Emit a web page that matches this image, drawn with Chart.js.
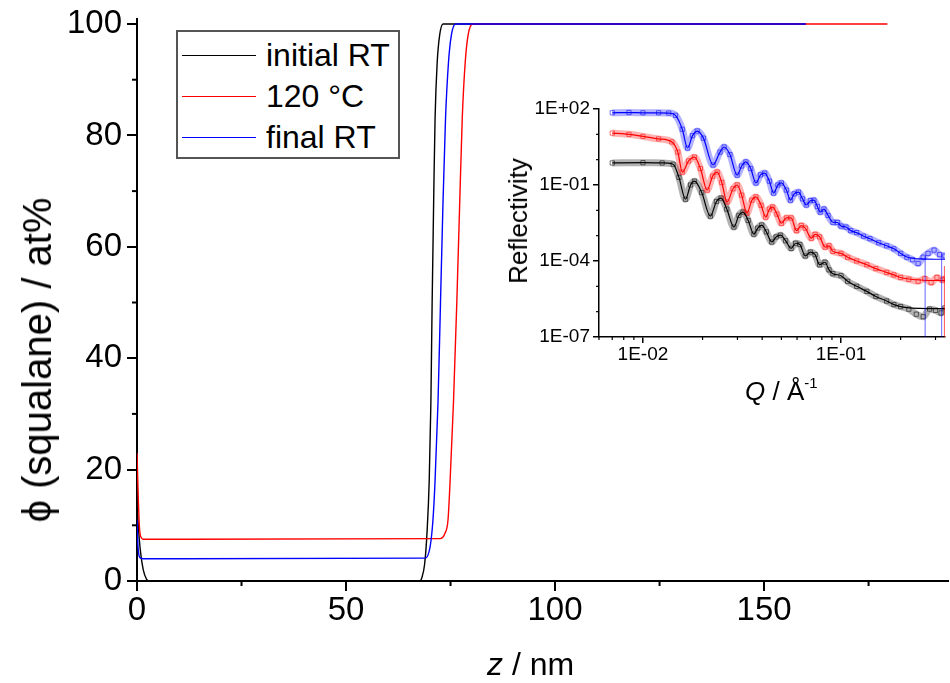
<!DOCTYPE html>
<html>
<head>
<meta charset="utf-8">
<script src="https://cdn.jsdelivr.net/npm/chart.js@4.4.1/dist/chart.umd.min.js"></script>
<style>
  body { margin: 0; background: #fff; }
  #wrap { position: relative; width: 950px; height: 683px; font-family: Arial, "Liberation Sans", sans-serif; color: #000; }
  canvas { position: absolute; }
  #main { left: 0; top: 0; }
  #inset { left: 480px; top: 80px; }
  .txt { position: absolute; white-space: nowrap; line-height: 1; }
  .rot { transform: translate(-50%, -50%) rotate(-90deg); }
  #legend { position: absolute; left: 176px; top: 30px; width: 220px; height: 125px; border: 2px solid #555; background: #fff; }
  .row { position: absolute; left: 0; height: 32px; }
  .row .swatch { position: absolute; left: 4px; top: 16px; width: 74px; height: 1px; }
  .row span { position: absolute; left: 88px; top: 0; font-size: 32px; line-height: 32px; white-space: nowrap; }
  sup { font-size: 15px; vertical-align: 12px; }
</style>
</head>
<body>
<div id="wrap">
  <canvas id="main" width="950" height="683"></canvas>
  <canvas id="inset" width="470" height="330"></canvas>
  <div id="legend"></div>
  <div class="txt rot" style="left:37px; top:360px; font-size:40px;">ϕ (squalane) / at%</div>
  <div class="txt" style="left:487px; top:648px; font-size:32px;"><i>z</i> / nm</div>
  <div class="txt rot" style="left:518px; top:221px; font-size:26px;">Reflectivity</div>
  <div class="txt" style="left:745px; top:375px; font-size:26px;"><i>Q</i> / Å<sup>-1</sup></div>
</div>
<script>
// depth profiles: z in nm, squalane fraction in at%
const zInitial = [0, 0.3, 0.8, 1.5, 2.3, 3.0, 67.6, 68.1, 68.8, 69.4, 69.9, 70.3, 70.6, 71.0, 71.3, 71.8, 72.4, 73.2, 160];
const phiInitial = [14, 10, 5.5, 2, 0.3, 0, 0, 0.5, 3, 9, 18, 32, 50, 70, 83, 93, 98, 100, 100];
const zHot = [0, 0.3, 0.6, 1.0, 1.5, 72.5, 73.7, 74.4, 74.9, 75.7, 76.5, 77.2, 77.8, 78.5, 79.2, 80.3, 179.5];
const phiHot = [23, 15, 9.5, 7.8, 7.5, 7.6, 8.6, 11, 18, 32, 50, 68, 83, 93, 98, 100, 100];
const zFinal = [0, 0.25, 0.5, 0.9, 1.5, 68.9, 70.1, 70.8, 71.3, 72.0, 72.6, 73.2, 73.8, 74.5, 75.2, 76.2, 160];
const phiFinal = [11, 6, 4.5, 4.1, 4.0, 4.1, 6.1, 11, 18, 32, 50, 68, 83, 93, 98, 100, 100];

const seriesNames = ['initial RT', '120 °C', 'final RT'];
const seriesColors = ['#000000', '#ff0000', '#0000ff'];

const zTicks = [0, 50, 100, 150];
const zMinor = [25, 75, 125, 175];
const phiTicks = [0, 20, 40, 60, 80, 100];
const phiMinor = [10, 30, 50, 70, 90];

// inset reflectivity curves, R kept as log10(R)
const qInitial = [0.0070, 0.0100, 0.0125, 0.0142, 0.0152, 0.0164, 0.0174, 0.0182, 0.0198, 0.0219, 0.0235, 0.0248, 0.0265, 0.0288, 0.0305, 0.0320, 0.0340, 0.0363, 0.0380, 0.0398, 0.0420, 0.0447, 0.0470, 0.0495, 0.0525, 0.0560, 0.0590, 0.0620, 0.0660, 0.0700, 0.0740, 0.0780, 0.0830, 0.0870, 0.0910, 0.1000, 0.1080, 0.1200, 0.1350, 0.1500, 0.1700, 0.1850, 0.2000, 0.2200, 0.2400, 0.2600, 0.2800, 0.3000, 0.3200, 0.3350];
const logRInitial = [-0.13, -0.12, -0.13, -0.18, -0.70, -1.56, -1.00, -0.85, -1.30, -2.23, -1.65, -1.52, -1.95, -2.66, -2.20, -2.07, -2.40, -2.94, -2.70, -2.58, -2.85, -3.25, -3.05, -2.98, -3.20, -3.50, -3.30, -3.35, -3.80, -3.65, -3.75, -4.15, -4.05, -4.35, -4.50, -4.58, -4.80, -5.00, -5.20, -5.40, -5.58, -5.72, -5.80, -5.90, -6.10, -6.20, -5.90, -5.95, -6.05, -5.85];
const qHot = [0.0070, 0.0085, 0.0100, 0.0120, 0.0140, 0.0150, 0.0158, 0.0170, 0.0182, 0.0195, 0.0211, 0.0225, 0.0237, 0.0250, 0.0266, 0.0285, 0.0299, 0.0315, 0.0335, 0.0355, 0.0372, 0.0395, 0.0417, 0.0435, 0.0452, 0.0475, 0.0500, 0.0530, 0.0560, 0.0596, 0.0630, 0.0660, 0.0708, 0.0740, 0.0780, 0.0832, 0.0870, 0.0910, 0.1000, 0.1080, 0.1200, 0.1350, 0.1500, 0.1700, 0.1850, 0.2000, 0.2200, 0.2450, 0.2650, 0.2850, 0.3050, 0.3250, 0.3350];
const logRHot = [1.05, 1.00, 0.92, 0.82, 0.70, 0.30, -0.49, -0.05, 0.10, -0.35, -1.20, -0.65, -0.49, -0.90, -1.67, -1.15, -1.00, -1.40, -2.11, -1.60, -1.47, -1.80, -2.27, -1.95, -1.87, -2.15, -2.51, -2.30, -2.30, -2.80, -2.60, -2.70, -3.10, -2.95, -3.05, -3.45, -3.40, -3.62, -3.70, -3.85, -4.00, -4.15, -4.30, -4.45, -4.55, -4.65, -4.72, -4.80, -4.70, -4.85, -4.65, -4.75, -4.70];
const qFinal = [0.0070, 0.0085, 0.0100, 0.0120, 0.0135, 0.0146, 0.0158, 0.0168, 0.0178, 0.0188, 0.0202, 0.0226, 0.0245, 0.0257, 0.0275, 0.0299, 0.0315, 0.0331, 0.0350, 0.0372, 0.0392, 0.0412, 0.0435, 0.0457, 0.0480, 0.0500, 0.0530, 0.0556, 0.0580, 0.0610, 0.0640, 0.0668, 0.0700, 0.0730, 0.0760, 0.0785, 0.0820, 0.0860, 0.0910, 0.0960, 0.1000, 0.1060, 0.1120, 0.1200, 0.1300, 0.1400, 0.1550, 0.1700, 0.1850, 0.2000, 0.2150, 0.2300, 0.2450, 0.2600, 0.2750, 0.2950, 0.3150, 0.3350];
const logRFinal = [1.85, 1.86, 1.85, 1.85, 1.84, 1.75, 1.20, 0.46, 0.95, 1.13, 0.85, -0.21, 0.30, 0.50, 0.20, -0.61, -0.25, -0.09, -0.35, -0.92, -0.60, -0.53, -0.85, -1.32, -1.00, -0.92, -1.20, -1.60, -1.35, -1.28, -1.55, -1.79, -1.62, -1.60, -1.85, -2.07, -1.95, -2.20, -2.47, -2.48, -2.62, -2.66, -2.80, -2.88, -3.02, -3.12, -3.28, -3.40, -3.52, -3.70, -3.85, -3.95, -4.10, -3.85, -3.70, -3.57, -3.75, -3.80];

// fitted curves flatten at high Q
const fitTailQ = [0.215, 0.25, 0.30, 0.335];
const fitTailInitial = [-5.84, -5.87, -5.88, -5.88];
const fitTailHot = [-4.70, -4.75, -4.77, -4.77];
const fitTailFinal = [-3.84, -3.92, -3.93, -3.93];

// error bars reaching down to the axis at the noisy end
const errQFinal = [0.266, 0.322];
const errTopFinal = [-3.8, -3.7];
const errQHot = [0.333];
const errTopHot = [-4.2];

const qTicks = [0.01, 0.1];
const qTickLabels = ['1E-02', '1E-01'];
const qMinor = [0.006, 0.007, 0.008, 0.009, 0.02, 0.03, 0.04, 0.05, 0.06, 0.07, 0.08, 0.09, 0.2, 0.3];
const rTicks = [1e-7, 1e-4, 1e-1, 1e2];
const rTickLabels = ['1E-07', '1E-04', '1E-01', '1E+02'];
const rMinor = [1e-6, 1e-5, 1e-3, 1e-2, 1, 10];

Chart.defaults.font.family = 'Arial, "Liberation Sans", sans-serif';
Chart.defaults.color = '#000';

function pts(xs, ys) {
  return xs.map((x, i) => ({ x: x, y: ys[i] }));
}
function logPts(xs, ls) {
  return xs.map((x, i) => ({ x: x, y: Math.pow(10, ls[i]) }));
}
function fitLine(q, logR, tail) {
  const head = logPts(q, logR).filter(p => p.x <= 0.2);
  return head.concat(logPts(fitTailQ, tail));
}
function errBars(q, tops) {
  const out = [];
  q.forEach((x, i) => {
    out.push({ x: x, y: 1e-7 }, { x: x, y: Math.pow(10, tops[i]) }, { x: x, y: null });
  });
  return out;
}
function rgba(hex, a) {
  const n = parseInt(hex.slice(1), 16);
  return 'rgba(' + (n >> 16) + ',' + ((n >> 8) & 255) + ',' + (n & 255) + ',' + a + ')';
}

// small outward ticks between the labelled ones
function minorTicks(spec) {
  return {
    id: 'minorTicks',
    afterDraw(chart) {
      const ctx = chart.ctx;
      ctx.save();
      ctx.strokeStyle = '#000';
      ctx.lineWidth = spec.width;
      spec.x.forEach(v => {
        const s = chart.scales.x, p = s.getPixelForValue(v);
        ctx.beginPath(); ctx.moveTo(p, s.top); ctx.lineTo(p, s.top + spec.length); ctx.stroke();
      });
      spec.y.forEach(v => {
        const s = chart.scales.y, p = s.getPixelForValue(v);
        ctx.beginPath(); ctx.moveTo(s.right, p); ctx.lineTo(s.right - spec.length, p); ctx.stroke();
      });
      ctx.restore();
    }
  };
}

function noPad(s) {
  s.paddingLeft = 0; s.paddingRight = 0; s.paddingTop = 0; s.paddingBottom = 0;
}

// ---- main profile chart
const profiles = [[zInitial, phiInitial], [zHot, phiHot], [zFinal, phiFinal]];
new Chart(document.getElementById('main'), {
  type: 'line',
  data: {
    datasets: profiles.map((p, i) => ({
      label: seriesNames[i],
      data: pts(p[0], p[1]),
      borderColor: seriesColors[i],
      borderWidth: 1.4,
      pointRadius: 0,
      cubicInterpolationMode: 'monotone',
      order: 2 - i
    }))
  },
  options: {
    responsive: false,
    animation: false,
    layout: { padding: { top: 19, right: 2, left: 0, bottom: 0 } },
    plugins: { legend: { display: false }, tooltip: { enabled: false } },
    scales: {
      x: {
        type: 'linear', min: 0, max: 194,
        afterBuildTicks: s => { s.ticks = zTicks.map(v => ({ value: v })); },
        afterFit: s => { s.height = 102; noPad(s); },
        ticks: { font: { size: 33 }, padding: 0, maxRotation: 0, autoSkip: false },
        grid: { drawOnChartArea: false, color: '#000', lineWidth: 2, tickLength: 10 },
        border: { color: '#000', width: 2 }
      },
      y: {
        type: 'linear', min: 0, max: 100.9,
        afterBuildTicks: s => { s.ticks = phiTicks.map(v => ({ value: v })); },
        afterFit: s => { s.width = 137; noPad(s); },
        ticks: { font: { size: 33 }, padding: 5, autoSkip: false },
        grid: { drawOnChartArea: false, color: '#000', lineWidth: 2, tickLength: 10 },
        border: { color: '#000', width: 2 }
      }
    }
  },
  plugins: [minorTicks({ x: zMinor, y: phiMinor, length: 5, width: 2 })]
});

// legend box drawn from the same names and colours
const legend = document.getElementById('legend');
seriesNames.forEach((name, i) => {
  const row = document.createElement('div');
  row.className = 'row';
  row.style.top = (7 + i * 41) + 'px';
  row.innerHTML = '<div class="swatch" style="background:' + seriesColors[i] + '"></div><span>' + name + '</span>';
  legend.appendChild(row);
});

// ---- inset reflectivity chart
const refl = [[qInitial, logRInitial, fitTailInitial], [qHot, logRHot, fitTailHot], [qFinal, logRFinal, fitTailFinal]];
const insetSets = [];
refl.forEach((r, i) => {
  const c = seriesColors[i];
  insetSets.push({
    data: logPts(r[0], r[1]),
    borderColor: rgba(c, 0.3),
    borderWidth: 7,
    pointStyle: 'rect',
    pointRadius: 3,
    pointBorderWidth: 1,
    pointBorderColor: rgba(c, 0.55),
    pointBackgroundColor: 'rgba(0,0,0,0)',
    cubicInterpolationMode: 'monotone',
    order: 10 - i
  });
  insetSets.push({
    data: fitLine(r[0], r[1], r[2]),
    borderColor: c,
    borderWidth: 1.2,
    pointRadius: 0,
    cubicInterpolationMode: 'monotone',
    order: 5 - i
  });
});
insetSets.push({ data: errBars(errQFinal, errTopFinal), borderColor: rgba('#0000ff', 0.5), borderWidth: 1.2, pointRadius: 0, spanGaps: false, order: 1 });
insetSets.push({ data: errBars(errQHot, errTopHot), borderColor: rgba('#ff0000', 0.6), borderWidth: 1.2, pointRadius: 0, spanGaps: false, order: 1 });

new Chart(document.getElementById('inset'), {
  type: 'line',
  data: { datasets: insetSets },
  options: {
    responsive: false,
    animation: false,
    layout: { padding: { top: 29, right: 2, left: 0, bottom: 0 } },
    plugins: { legend: { display: false }, tooltip: { enabled: false } },
    scales: {
      x: {
        type: 'logarithmic', min: 0.006, max: 0.335,
        afterBuildTicks: s => { s.ticks = qTicks.map(v => ({ value: v })); },
        afterFit: s => { s.height = 73; noPad(s); },
        ticks: { font: { size: 19 }, padding: 0, maxRotation: 0, autoSkip: false, callback: (v, i) => qTickLabels[i] },
        grid: { drawOnChartArea: false, color: '#000', lineWidth: 1.5, tickLength: 6 },
        border: { color: '#000', width: 1.5 }
      },
      y: {
        type: 'logarithmic', min: 1e-7, max: 1e2,
        afterBuildTicks: s => { s.ticks = rTicks.map(v => ({ value: v })); },
        afterFit: s => { s.width = 119; noPad(s); },
        ticks: { font: { size: 19 }, padding: 3, autoSkip: false, callback: (v, i) => rTickLabels[i] },
        grid: { drawOnChartArea: false, color: '#000', lineWidth: 1.5, tickLength: 6 },
        border: { color: '#000', width: 1.5 }
      }
    }
  },
  plugins: [minorTicks({ x: qMinor, y: rMinor, length: 3, width: 1.2 })]
});
</script>
</body>
</html>
